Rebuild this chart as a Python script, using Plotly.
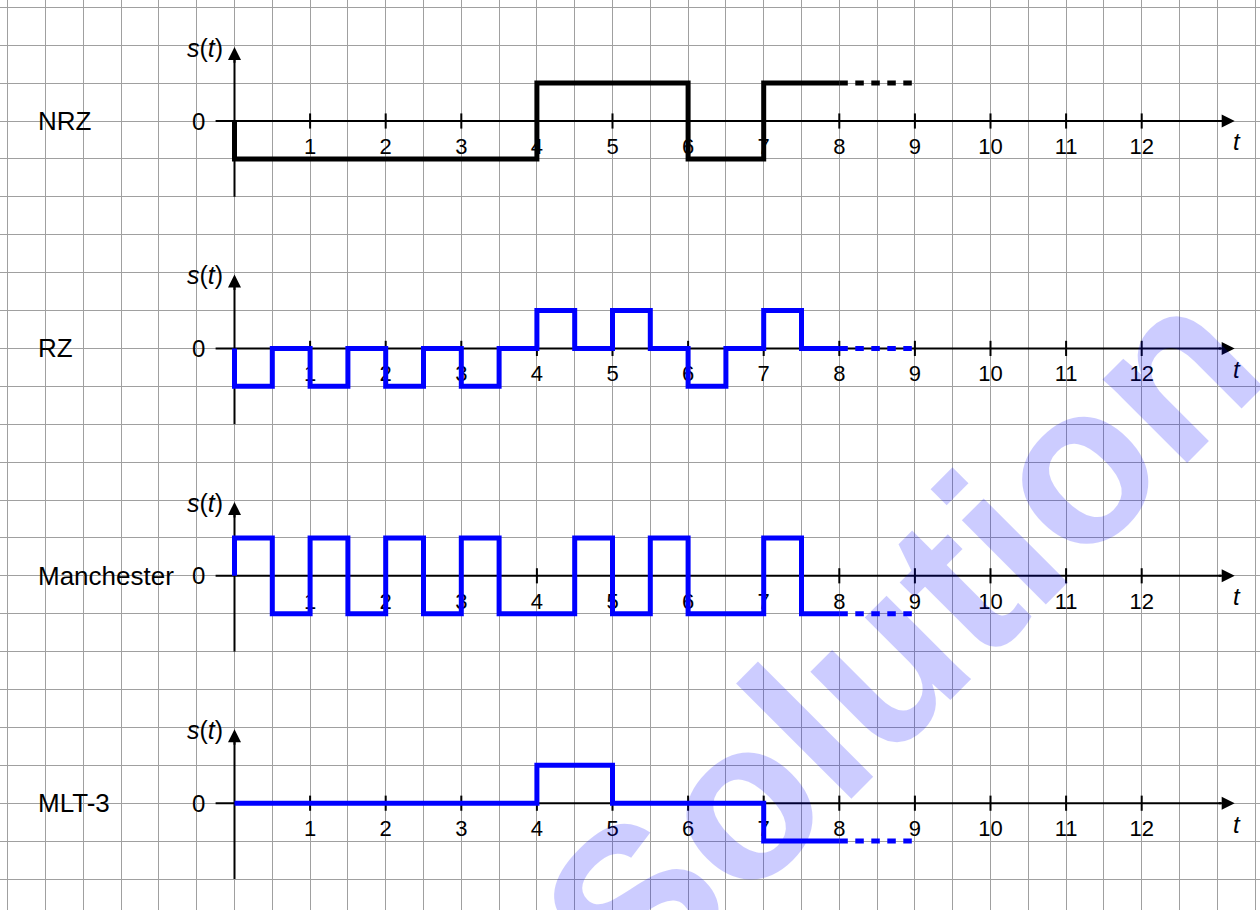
import plotly.graph_objects as go

# ---------------- data ----------------
panel_names = ["NRZ", "RZ", "Manchester", "MLT-3"]
panel_colors = ["black", "blue", "blue", "blue"]
# signal level for each half-bit interval, t = 0 .. 8 in steps of 0.5
nrz_levels = [-1, -1, -1, -1, -1, -1, -1, -1, 1, 1, 1, 1, -1, -1, 1, 1]
rz_levels = [-1, 0, -1, 0, -1, 0, -1, 0, 1, 0, 1, 0, -1, 0, 1, 0]
manchester_levels = [1, -1, 1, -1, 1, -1, 1, -1, -1, 1, -1, 1, -1, -1, 1, -1]
mlt3_levels = [0, 0, 0, 0, 0, 0, 0, 0, 1, 1, 0, 0, 0, 0, -1, -1]
all_levels = [nrz_levels, rz_levels, manchester_levels, mlt3_levels]
half_bit = 0.5
dashed_end_t = 9
tick_values = list(range(1, 13))
tick_labels = [str(v) for v in tick_values]
watermark_text = "Solution"

# ---------------- layout geometry ----------------
W, H = 1260, 910
T0_PX = 234.5        # pixel of t = 0
PX_PER_T = 75.6      # pixels per time unit
ZERO0_PX = 121.0     # pixel of first panel zero line
CELL_PX = 37.9       # pixels per level unit
PANEL_STEP = 6       # level units between panels

x_range = [-T0_PX / PX_PER_T, (W - T0_PX) / PX_PER_T]
y_range = [-(H - ZERO0_PX) / CELL_PX, ZERO0_PX / CELL_PX]

AX_COLOR = "black"
FONT = "Liberation Sans, Arial, sans-serif"

fig = go.Figure()
annotations = []

offsets = [-PANEL_STEP * i for i in range(len(panel_names))]

# axes lines, ticks and tick labels (drawn below the signals)
for off in offsets:
    fig.add_trace(go.Scatter(x=[-0.25, 13.05], y=[off, off], mode="lines",
                             line=dict(color=AX_COLOR, width=2), hoverinfo="skip", showlegend=False))
    fig.add_trace(go.Scatter(x=[0, 0], y=[off - 2, off + 1.8], mode="lines",
                             line=dict(color=AX_COLOR, width=2), hoverinfo="skip", showlegend=False))
    tx, ty = [], []
    for v in tick_values:
        tx += [v, v, None]
        ty += [off - 0.2, off + 0.2, None]
    fig.add_trace(go.Scatter(x=tx, y=ty, mode="lines", line=dict(color=AX_COLOR, width=2),
                             hoverinfo="skip", showlegend=False))
    fig.add_trace(go.Scatter(x=tick_values, y=[off - 0.72] * len(tick_values), mode="text",
                             text=tick_labels, textposition="middle center",
                             textfont=dict(family=FONT, size=22, color="black"),
                             hoverinfo="skip", showlegend=False))
    # arrow heads
    annotations.append(dict(x=13.23, y=off, ax=13.0, ay=off, xref="x", yref="y", axref="x", ayref="y",
                            text="", showarrow=True, arrowhead=2, arrowsize=1.3, arrowwidth=2,
                            arrowcolor=AX_COLOR, standoff=0))
    annotations.append(dict(x=0, y=off + 1.95, ax=0, ay=off + 1.5, xref="x", yref="y", axref="x", ayref="y",
                            text="", showarrow=True, arrowhead=2, arrowsize=1.3, arrowwidth=2,
                            arrowcolor=AX_COLOR, standoff=0))

# signals
for name, levels, color, off in zip(panel_names, all_levels, panel_colors, offsets):
    xs, ys = [0], [off]
    for i, v in enumerate(levels):
        xs += [i * half_bit, (i + 1) * half_bit]
        ys += [off + v, off + v]
    fig.add_trace(go.Scatter(x=xs, y=ys, mode="lines", line=dict(color=color, width=5),
                             name=name, hoverinfo="skip", showlegend=False))
    t_end = len(levels) * half_bit
    fig.add_trace(go.Scatter(x=[t_end, dashed_end_t], y=[off + levels[-1]] * 2, mode="lines",
                             line=dict(color=color, width=5, dash="8.5px,7.5px"),
                             hoverinfo="skip", showlegend=False))

# text labels
for name, off in zip(panel_names, offsets):
    annotations.append(dict(x=-2.62, y=off, xref="x", yref="y", text=name, showarrow=False,
                            xanchor="left", yanchor="middle",
                            font=dict(family=FONT, size=26, color="black")))
    annotations.append(dict(x=-0.48, y=off, xref="x", yref="y", text="0", showarrow=False,
                            xanchor="center", yanchor="middle",
                            font=dict(family=FONT, size=24, color="black")))
    annotations.append(dict(x=-0.13, y=off + 1.93, xref="x", yref="y", text="<i>s</i>(<i>t</i>)",
                            showarrow=False, xanchor="right", yanchor="middle",
                            font=dict(family=FONT, size=25, color="black")))
    annotations.append(dict(x=13.26, y=off - 0.55, xref="x", yref="y", text="<i>t</i>",
                            showarrow=False, xanchor="center", yanchor="middle",
                            font=dict(family=FONT, size=24, color="black")))

# watermark
annotations.append(dict(x=8.8, y=-13.69, xref="x", yref="y", text="<b>" + watermark_text + "</b>",
                        showarrow=False, textangle=-45, xanchor="center", yanchor="middle",
                        font=dict(family=FONT, size=225, color="rgba(0,0,255,0.2)")))

fig.update_layout(
    width=W, height=H,
    margin=dict(l=0, r=0, t=0, b=0),
    paper_bgcolor="white", plot_bgcolor="white",
    showlegend=False,
    annotations=annotations,
    xaxis=dict(range=x_range, dtick=0.5, tick0=0, showgrid=True, gridcolor="#a0a0a0", gridwidth=1.2,
               zeroline=False, showticklabels=False, ticks="", showline=False, fixedrange=True),
    yaxis=dict(range=y_range, dtick=1, tick0=0, showgrid=True, gridcolor="#a0a0a0", gridwidth=1.2,
               zeroline=False, showticklabels=False, ticks="", showline=False, fixedrange=True),
)

fig.write_html("out.html", config={"displayModeBar": False},
               post_script="document.body.style.margin='0px';document.body.style.overflow='hidden';")
